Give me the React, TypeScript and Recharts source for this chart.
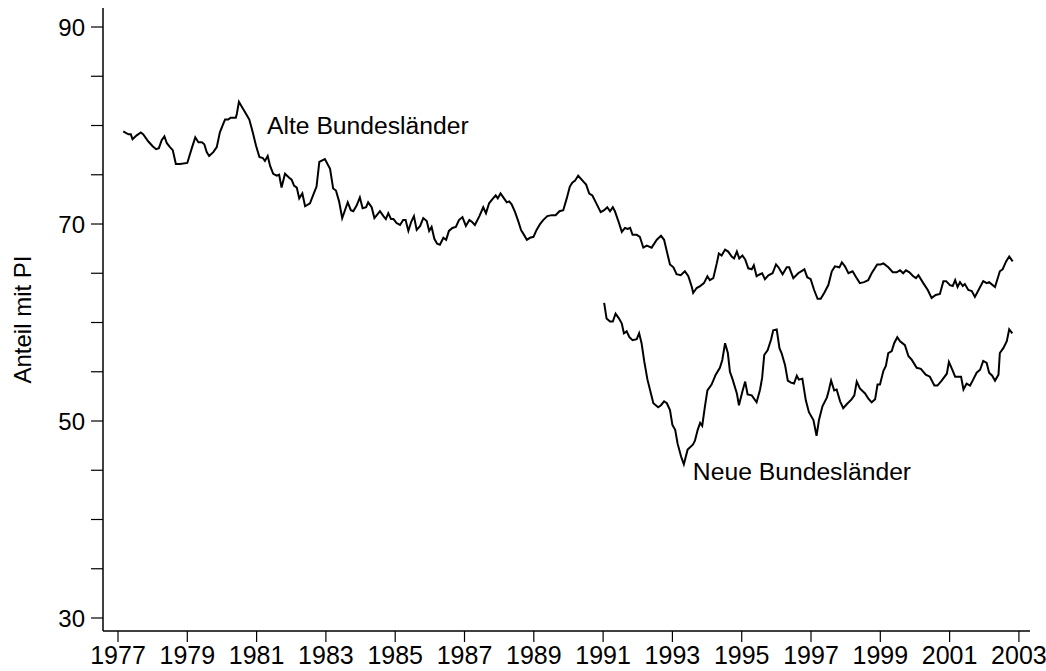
import React from 'react';
import { LineChart, Line, XAxis, YAxis, ReferenceDot } from 'recharts';

const alteYears = [
  1977.15, 1977.30, 1977.37, 1977.42, 1977.54, 1977.66, 1977.73, 1977.87, 1978.00, 1978.10,
  1978.18, 1978.26, 1978.34, 1978.41, 1978.50, 1978.58, 1978.67, 1978.79, 1979.00, 1979.13,
  1979.23, 1979.32, 1979.42, 1979.49, 1979.56, 1979.63, 1979.75, 1979.85, 1979.94, 1980.04,
  1980.09, 1980.18, 1980.25, 1980.40, 1980.43, 1980.49, 1980.59, 1980.71, 1980.79, 1980.89,
  1980.98, 1981.08, 1981.18, 1981.24, 1981.32, 1981.39, 1981.48, 1981.58, 1981.65, 1981.72,
  1981.82, 1981.94, 1982.01, 1982.08, 1982.16, 1982.23, 1982.32, 1982.40, 1982.54, 1982.64,
  1982.73, 1982.81, 1982.97, 1983.12, 1983.21, 1983.29, 1983.38, 1983.47, 1983.55, 1983.63,
  1983.72, 1983.79, 1983.89, 1983.98, 1984.06, 1984.16, 1984.22, 1984.32, 1984.40, 1984.47,
  1984.56, 1984.66, 1984.73, 1984.80, 1984.88, 1984.95, 1985.04, 1985.14, 1985.23, 1985.30,
  1985.38, 1985.46, 1985.54, 1985.62, 1985.72, 1985.81, 1985.91, 1985.98, 1986.05, 1986.13,
  1986.21, 1986.29, 1986.39, 1986.47, 1986.55, 1986.65, 1986.75, 1986.84, 1986.94, 1987.04,
  1987.14, 1987.22, 1987.30, 1987.43, 1987.54, 1987.62, 1987.71, 1987.80, 1987.90, 1987.96,
  1988.04, 1988.12, 1988.22, 1988.29, 1988.36, 1988.46, 1988.55, 1988.63, 1988.70, 1988.80,
  1988.89, 1988.99, 1989.08, 1989.18, 1989.27, 1989.39, 1989.52, 1989.63, 1989.74, 1989.85,
  1989.95, 1990.04, 1990.11, 1990.19, 1990.28, 1990.38, 1990.51, 1990.60, 1990.69, 1990.79,
  1990.93, 1991.03, 1991.12, 1991.20, 1991.28, 1991.34, 1991.44, 1991.54, 1991.63, 1991.71,
  1991.78, 1991.85, 1991.97, 1992.06, 1992.16, 1992.26, 1992.40, 1992.55, 1992.67, 1992.76,
  1992.84, 1992.93, 1993.03, 1993.12, 1993.24, 1993.36, 1993.46, 1993.56, 1993.60, 1993.70,
  1993.80, 1993.91, 1994.01, 1994.08, 1994.18, 1994.28, 1994.34, 1994.42, 1994.52, 1994.61,
  1994.71, 1994.78, 1994.86, 1994.93, 1995.02, 1995.10, 1995.19, 1995.29, 1995.35, 1995.43,
  1995.53, 1995.59, 1995.67, 1995.77, 1995.89, 1995.99, 1996.06, 1996.18, 1996.30, 1996.37,
  1996.49, 1996.63, 1996.81, 1996.89, 1996.99, 1997.09, 1997.19, 1997.28, 1997.38, 1997.50,
  1997.60, 1997.69, 1997.82, 1997.89, 1997.98, 1998.08, 1998.20, 1998.32, 1998.41, 1998.53,
  1998.65, 1998.75, 1998.91, 1999.01, 1999.09, 1999.23, 1999.36, 1999.47, 1999.57, 1999.66,
  1999.74, 1999.84, 1999.95, 2000.03, 2000.10, 2000.24, 2000.37, 2000.48, 2000.60, 2000.72,
  2000.82, 2000.90, 2001.01, 2001.09, 2001.16, 2001.23, 2001.30, 2001.38, 2001.44, 2001.54,
  2001.64, 2001.73, 2001.85, 2001.97, 2002.07, 2002.14, 2002.31, 2002.45, 2002.53, 2002.63,
  2002.72, 2002.82,
];

const alteValues = [
  79.4, 79.1, 79.1, 78.6, 79.0, 79.3, 79.1, 78.4, 77.9, 77.6,
  77.7, 78.5, 78.9, 78.2, 77.8, 77.5, 76.1, 76.1, 76.2, 77.7,
  78.8, 78.3, 78.3, 78.1, 77.3, 76.9, 77.3, 77.8, 79.3, 80.2,
  80.6, 80.6, 80.8, 80.8, 81.2, 82.4, 81.8, 81.1, 80.6, 79.3,
  78.0, 76.8, 76.7, 76.4, 76.9, 75.9, 75.1, 74.9, 75.0, 73.7,
  75.1, 74.7, 74.5, 73.9, 73.7, 72.6, 73.1, 71.8, 72.1, 73.0,
  73.8, 76.3, 76.6, 75.6, 73.6, 73.4, 72.3, 70.6, 71.4, 72.2,
  71.4, 71.3, 71.9, 72.7, 71.6, 71.7, 72.2, 71.7, 70.6, 70.9,
  71.3, 70.8, 70.5, 71.1, 70.5, 70.5, 70.1, 69.9, 70.4, 70.4,
  69.3, 70.2, 70.8, 69.4, 69.8, 70.6, 70.3, 69.3, 69.7, 68.5,
  68.0, 67.9, 68.6, 68.4, 69.3, 69.6, 69.7, 70.4, 70.7, 69.8,
  70.4, 70.2, 69.9, 70.8, 71.7, 71.1, 72.1, 72.5, 72.9, 72.6,
  73.1, 72.7, 72.2, 72.3, 72.0, 71.2, 70.3, 69.4, 69.0, 68.4,
  68.6, 68.7, 69.4, 70.0, 70.4, 70.8, 70.9, 70.9, 71.3, 71.4,
  72.6, 73.8, 74.2, 74.4, 74.9, 74.5, 74.0, 73.1, 72.9, 72.2,
  71.2, 71.4, 71.7, 71.3, 71.7, 71.3, 70.3, 69.2, 69.6, 69.5,
  69.6, 68.9, 68.9, 68.7, 67.6, 67.8, 67.6, 68.4, 68.8, 68.4,
  67.2, 65.9, 65.6, 64.9, 64.8, 65.2, 64.7, 63.6, 63.0, 63.5,
  63.7, 64.0, 64.7, 64.3, 64.5, 66.0, 67.0, 66.8, 67.4, 67.2,
  66.7, 66.5, 67.2, 66.5, 66.8, 66.4, 65.5, 65.4, 65.8, 64.7,
  64.9, 65.0, 64.4, 64.8, 65.0, 65.9, 65.6, 64.9, 65.6, 65.6,
  64.5, 65.0, 65.4, 64.6, 64.4, 63.3, 62.4, 62.4, 63.0, 63.8,
  65.2, 65.7, 65.6, 66.1, 65.7, 65.0, 65.2, 64.5, 64.0, 64.1,
  64.3, 65.0, 65.9, 65.9, 66.0, 65.6, 65.1, 65.1, 65.3, 65.0,
  65.3, 65.1, 64.7, 64.5, 64.8, 64.0, 63.3, 62.5, 62.8, 62.9,
  64.2, 64.2, 63.8, 63.7, 64.3, 63.6, 64.1, 63.7, 63.9, 63.3,
  63.2, 62.6, 63.4, 64.2, 64.0, 64.1, 63.6, 65.2, 65.4, 66.2,
  66.7, 66.2,
];

const neueYears = [
  1991.03, 1991.10, 1991.20, 1991.28, 1991.36, 1991.46, 1991.54, 1991.60, 1991.68, 1991.76,
  1991.85, 1991.97, 1992.04, 1992.11, 1992.19, 1992.28, 1992.38, 1992.45, 1992.59, 1992.67,
  1992.76, 1992.84, 1992.93, 1993.00, 1993.08, 1993.15, 1993.25, 1993.33, 1993.44, 1993.59,
  1993.65, 1993.73, 1993.80, 1993.86, 1993.94, 1994.01, 1994.13, 1994.25, 1994.37, 1994.44,
  1994.52, 1994.60, 1994.66, 1994.73, 1994.86, 1994.92, 1995.02, 1995.10, 1995.17, 1995.29,
  1995.43, 1995.53, 1995.59, 1995.65, 1995.75, 1995.85, 1995.91, 1996.01, 1996.09, 1996.15,
  1996.25, 1996.33, 1996.42, 1996.51, 1996.59, 1996.65, 1996.75, 1996.85, 1996.94, 1997.07,
  1997.16, 1997.23, 1997.33, 1997.46, 1997.52, 1997.58, 1997.67, 1997.74, 1997.84, 1997.93,
  1998.03, 1998.17, 1998.25, 1998.32, 1998.41, 1998.56, 1998.65, 1998.75, 1998.85, 1998.92,
  1998.99, 1999.09, 1999.16, 1999.23, 1999.33, 1999.40, 1999.49, 1999.57, 1999.71, 1999.81,
  1999.91, 2000.05, 2000.17, 2000.31, 2000.43, 2000.56, 2000.65, 2000.77, 2000.92, 2000.98,
  2001.08, 2001.16, 2001.28, 2001.33, 2001.40, 2001.49, 2001.59, 2001.68, 2001.78, 2001.88,
  2001.97, 2002.07, 2002.14, 2002.23, 2002.31, 2002.41, 2002.45, 2002.55, 2002.65, 2002.72,
  2002.81,
];

const neueValues = [
  62.0, 60.4, 60.1, 60.1, 60.9, 60.4, 59.9, 58.9, 59.1, 58.5,
  58.2, 58.3, 58.9, 57.9, 56.0, 54.2, 52.8, 51.8, 51.4, 51.6,
  52.0, 51.8, 51.1, 49.6, 49.1, 47.7, 46.4, 45.6, 47.1, 47.6,
  48.0, 49.1, 49.8, 49.5, 51.5, 53.1, 53.7, 54.7, 55.4, 56.2,
  57.9, 56.9, 55.0, 54.3, 52.8, 51.6, 53.0, 54.0, 52.7, 52.6,
  51.9, 53.2, 54.4, 56.7, 57.2, 58.3, 59.2, 59.3, 57.4, 56.9,
  55.7, 54.1, 53.9, 53.8, 54.6, 54.2, 54.3, 52.1, 50.9, 50.1,
  48.5, 50.1, 51.5, 52.4, 53.2, 54.1, 53.1, 53.2, 52.0, 51.3,
  51.7, 52.2, 52.6, 54.0, 53.3, 52.8, 52.3, 51.9, 52.2, 53.7,
  53.7, 55.1, 55.6, 56.9, 57.1, 57.9, 58.5, 58.1, 57.7, 56.6,
  56.2, 55.4, 55.3, 54.7, 54.5, 53.6, 53.6, 54.1, 54.8, 56.0,
  55.2, 54.5, 54.5, 54.5, 53.2, 53.8, 53.6, 54.2, 54.9, 55.2,
  56.1, 55.9, 54.9, 54.6, 54.1, 54.7, 56.9, 57.4, 58.1, 59.3,
  58.9,
];

const xTicks = [1977, 1979, 1981, 1983, 1985, 1987, 1989, 1991, 1993, 1995, 1997, 1999, 2001, 2003];
const yTicks = [30, 35, 40, 45, 50, 55, 60, 65, 70, 75, 80, 85, 90];
const yLabelled = [30, 50, 70, 90];

const alteLabel = 'Alte Bundesländer';
const neueLabel = 'Neue Bundesländer';
const yTitle = 'Anteil mit PI';

const FONT = '"Liberation Sans", Arial, Helvetica, sans-serif';

const CHART_W = 1046;
const CHART_H = 671;
const MARGIN = { top: 8, right: 16, bottom: 0, left: 0 };
const X_AXIS_H = 40;

const alteData = alteYears.map((t, i) => ({ t, v: alteValues[i] }));
const neueData = neueYears.map((t, i) => ({ t, v: neueValues[i] }));

const YTitle = () => {
  const cx = 22;
  const cy = MARGIN.top + (CHART_H - MARGIN.top - MARGIN.bottom - X_AXIS_H) / 2;
  return (
    <text
      x={cx}
      y={cy}
      transform={`rotate(-90 ${cx} ${cy})`}
      textAnchor="middle"
      dominantBaseline="central"
      fontSize={24}
      fontFamily={FONT}
      fill="#000"
    >
      {yTitle}
    </text>
  );
};

const makeText = (label: string) => (p: any) => (
  <text x={p.cx} y={p.cy} fontSize={24.7} fontFamily={FONT} fill="#000">
    {label}
  </text>
);

export default function App() {
  return (
    <div style={{ position: 'absolute', left: 0, top: 0, width: CHART_W, height: CHART_H, background: '#fff' }}>
      <LineChart width={CHART_W} height={CHART_H} margin={MARGIN}>
        <XAxis
          dataKey="t"
          type="number"
          domain={[1976.567, 2003.32]}
          allowDataOverflow
          ticks={xTicks}
          interval={0}
          height={X_AXIS_H}
          tickSize={11}
          tickMargin={4}
          axisLine={{ stroke: '#000', strokeWidth: 1.5 }}
          tickLine={{ stroke: '#000', strokeWidth: 1.2 }}
          tick={{ fill: '#000', fontSize: 25, fontFamily: FONT }}
        />
        <YAxis
          type="number"
          domain={[28.68, 91.93]}
          allowDataOverflow
          ticks={yTicks}
          interval={0}
          width={103}
          tickSize={12}
          tickMargin={6}
          tickFormatter={(v: number) => (yLabelled.includes(v) ? String(v) : '')}
          axisLine={{ stroke: '#000', strokeWidth: 1.5 }}
          tickLine={{ stroke: '#000', strokeWidth: 1.2 }}
          tick={{ fill: '#000', fontSize: 24, fontFamily: FONT }}
          label={{ content: YTitle }}
        />
        <Line
          data={alteData}
          dataKey="v"
          type="linear"
          stroke="#000"
          strokeWidth={2}
          dot={false}
          activeDot={false}
          isAnimationActive={false}
        />
        <Line
          data={neueData}
          dataKey="v"
          type="linear"
          stroke="#000"
          strokeWidth={2}
          dot={false}
          activeDot={false}
          isAnimationActive={false}
        />
        <ReferenceDot x={1981.3} y={79.14} r={0} ifOverflow="visible" shape={makeText(alteLabel)} />
        <ReferenceDot x={1993.59} y={44.0} r={0} ifOverflow="visible" shape={makeText(neueLabel)} />
      </LineChart>
    </div>
  );
}
